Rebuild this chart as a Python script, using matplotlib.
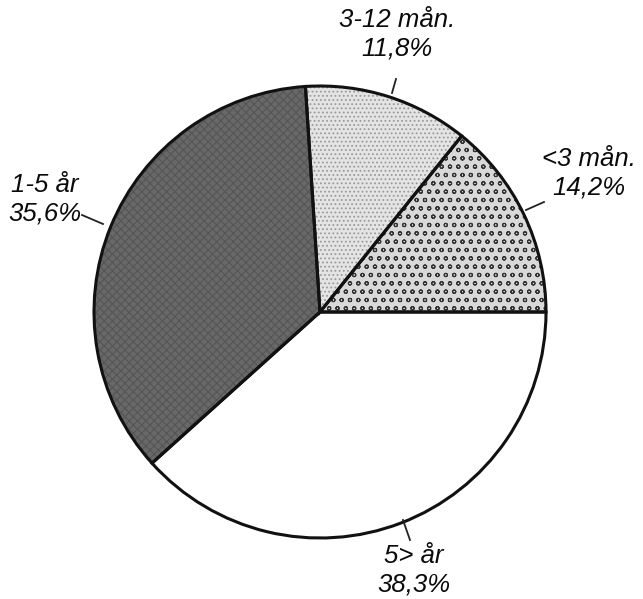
import matplotlib
matplotlib.use("Agg")
import matplotlib.pyplot as plt

# slice data, counter-clockwise from 3 o'clock
labels = ["<3 mån.", "3-12 mån.", "1-5 år", "5> år"]
shares = [14.2, 11.8, 35.6, 38.3]
pct_text = ["14,2%", "11,8%", "35,6%", "38,3%"]

faces = ["#d9d9d9", "#e4e4e4", "#686868", "#ffffff"]
hatch_cols = ["#333333", "#9a9a9a", "#555555", "#ffffff"]
hatches = ["oo", "....", "xxxx", None]

plt.rcParams["font.family"] = ["Liberation Sans", "DejaVu Sans"]
plt.rcParams["hatch.linewidth"] = 0.8

fig = plt.figure(figsize=(6.43, 5.99), dpi=100)
ax = fig.add_axes([0, 0, 1, 1])

cx, cy, r = 320, 312, 226

# fills with hatching (y axis inverted so counterclock=False gives visual CCW)
wedges, _ = ax.pie(shares, center=(cx, cy), radius=r, startangle=0,
                   counterclock=False, colors=faces,
                   wedgeprops=dict(linewidth=0), frame=True)
for w, h, hc in zip(wedges, hatches, hatch_cols):
    w.set_edgecolor(hc)
    w.set_linewidth(0)
    if h:
        w.set_hatch(h)

# outlines
ax.pie(shares, center=(cx, cy), radius=r, startangle=0, counterclock=False,
       colors=["none"] * 4, frame=True,
       wedgeprops=dict(linewidth=2.2, edgecolor="#111111", fill=False))
ax.set_xlim(0, 643)
ax.set_ylim(599, 0)
ax.set_aspect("equal")
ax.axis("off")

# label positions and leader lines
text_pos = [(589, 173), (397, 34), (45, 199), (414, 570)]
leaders = [((526, 210), (544, 202)), ((392, 93), (396, 79)),
           ((103, 224), (82, 215)), ((403, 520), (410, 540))]

for lab, pct, (tx, ty), ((x0, y0), (x1, y1)) in zip(labels, pct_text, text_pos, leaders):
    ax.text(tx, ty, lab + "\n" + pct, ha="center", va="center",
            fontsize=18.5, style="italic", color="#0a0a0a", linespacing=1.25)
    ax.plot([x0, x1], [y0, y1], color="#222222", linewidth=1.3)

fig.savefig("out.png", dpi=100)
